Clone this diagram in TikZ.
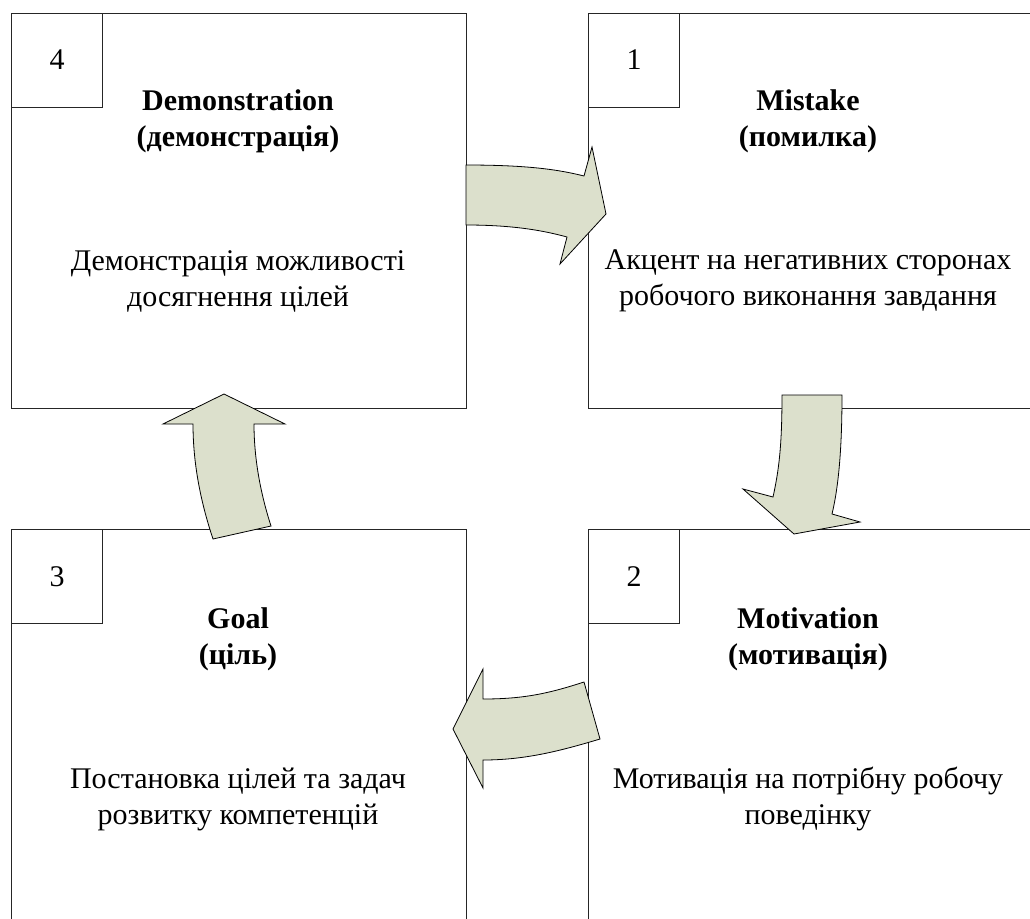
\documentclass[tikz,border=0pt]{standalone}
\usepackage{fontspec}
\setmainfont{Liberation Serif}
\begin{document}
\begin{tikzpicture}[x=1pt,y=-1pt,
  boxline/.style={draw=black!85,line width=1pt},
  numtext/.style={font=\fontsize{30}{36}\selectfont,inner sep=0pt},
  titletext/.style={font=\fontsize{30}{36}\selectfont\bfseries,align=center,inner sep=0pt},
  bodytext/.style={font=\fontsize{30}{36}\selectfont,align=center,inner sep=0pt},
  bigarrow/.style={fill=arrowfill,draw=black,line width=0.8pt,line join=miter}]
\definecolor{arrowfill}{RGB}{220,224,204}
\useasboundingbox (0,0) rectangle (1030,918);
\clip (0,0) rectangle (1030,918);
\fill[white] (0,0) rectangle (1030,918);
% boxes
\draw[boxline] (11,13) rectangle (466,408);
\draw[boxline] (588,13) rectangle (1045,408);
\draw[boxline] (11,529) rectangle (466,935);
\draw[boxline] (588,529) rectangle (1045,935);
% number squares
\draw[boxline] (11,13) rectangle (102,107);
\draw[boxline] (588,13) rectangle (679,107);
\draw[boxline] (11,529) rectangle (102,623);
\draw[boxline] (588,529) rectangle (679,623);
\node[numtext] (n4) at (57,60) {4};
\node[numtext] (n1) at (634,60) {1};
\node[numtext] (n3) at (57,577) {3};
\node[numtext] (n2) at (634,577) {2};
% texts
\node[titletext] (t4) at (238,121) {Demonstration\\(демонстрація)};
\node[bodytext] (b4) at (238,281) {Демонстрація можливості\\досягнення цілей};
\node[titletext] (t1) at (808,121) {Mistake\\(помилка)};
\node[bodytext] (b1) at (808,281) {Акцент на негативних сторонах\\робочого виконання завдання};
\node[titletext] (t3) at (238,639) {Goal\\(ціль)};
\node[bodytext] (b3) at (238,799) {Постановка цілей та задач\\розвитку компетенцій};
\node[titletext] (t2) at (808,639) {Motivation\\(мотивація)};
\node[bodytext] (b2) at (808,799) {Мотивація на потрібну робочу\\поведінку};
% arrows
\draw[bigarrow] (466,165) .. controls (530,165) and (560,170) .. (584,176)
  -- (592,147) -- (606,214) -- (560,264) -- (567,237)
  .. controls (545,231) and (515,225) .. (466,225) -- cycle;
\draw[bigarrow] (782,395) -- (842,395) .. controls (842,445) and (839,485) .. (832,514)
  -- (860,522) -- (794,534) -- (743,489) -- (773,497)
  .. controls (779,470) and (782,445) .. (782,395) -- cycle;
\draw[bigarrow] (584,682) -- (600,739) .. controls (560,751) and (525,760) .. (483,760)
  -- (483,788) -- (453,729) -- (483,669) -- (483,699)
  .. controls (525,699) and (550,693) .. (584,682) -- cycle;
\draw[bigarrow] (224,394) -- (285,424) -- (254,424)
  .. controls (254,460) and (261,495) .. (271,526) -- (213,539)
  .. controls (200,500) and (193,462) .. (193,424) -- (163,424) -- cycle;
\end{tikzpicture}
\end{document}
